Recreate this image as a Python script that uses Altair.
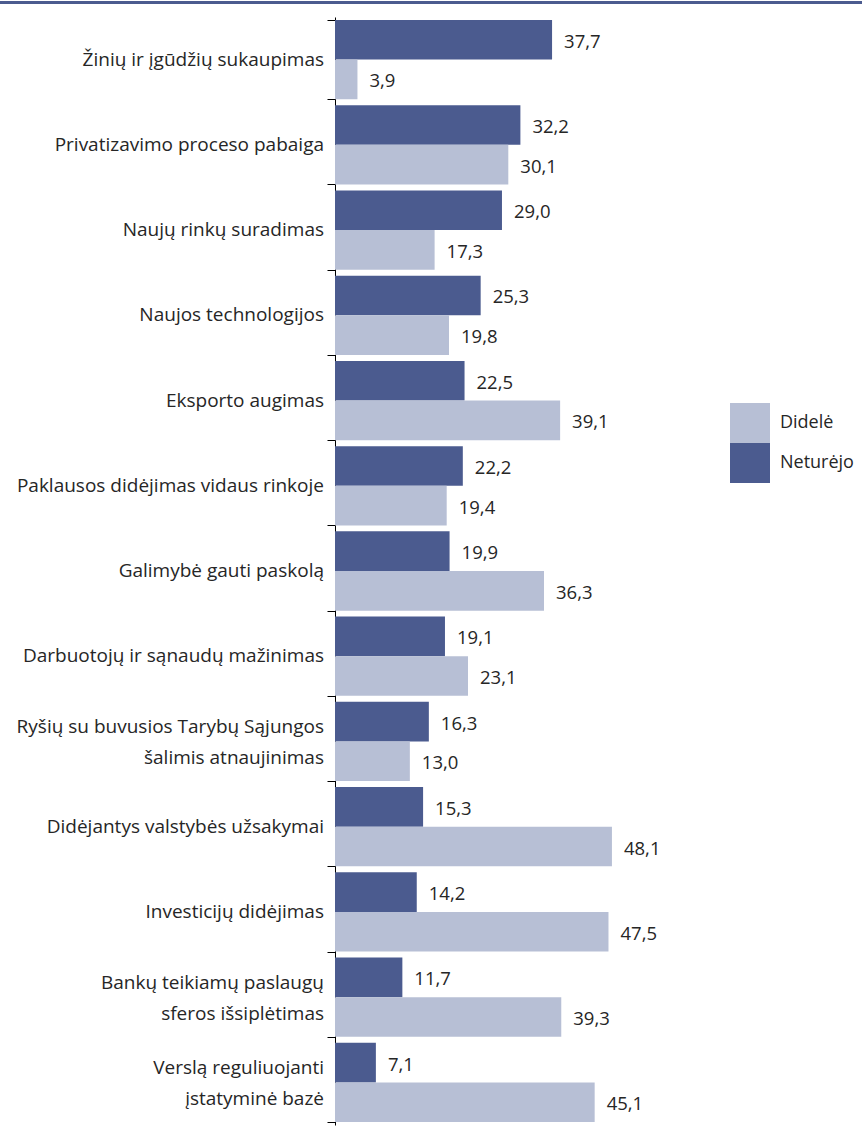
import altair as alt
import pandas as pd

categories = [
    "Žinių ir įgūdžių sukaupimas",
    "Privatizavimo proceso pabaiga",
    "Naujų rinkų suradimas",
    "Naujos technologijos",
    "Eksporto augimas",
    "Paklausos didėjimas vidaus rinkoje",
    "Galimybė gauti paskolą",
    "Darbuotojų  ir sąnaudų mažinimas",
    "Ryšių su buvusios Tarybų Sąjungos|šalimis atnaujinimas",
    "Didėjantys valstybės užsakymai",
    "Investicijų didėjimas",
    "Bankų teikiamų paslaugų|sferos išsiplėtimas",
    "Verslą reguliuojanti|įstatyminė bazė",
]
neturejo = [37.7, 32.2, 29.0, 25.3, 22.5, 22.2, 19.9, 19.1, 16.3, 15.3, 14.2, 11.7, 7.1]
didele = [3.9, 30.1, 17.3, 19.8, 39.1, 19.4, 36.3, 23.1, 13.0, 48.1, 47.5, 39.3, 45.1]
series = ["Didelė", "Neturėjo"]
colors = ["#b7bfd5", "#4b5b8f"]

rows = []
for c, n, d in zip(categories, neturejo, didele):
    rows.append({"cat": c, "series": "Neturėjo", "v": n})
    rows.append({"cat": c, "series": "Didelė", "v": d})
df = pd.DataFrame(rows)

lab_rows = []
for c in categories:
    parts = c.split("|")
    lab_rows.append({"cat": c, "l1": parts[0], "l2": parts[1] if len(parts) > 1 else ""})
labdf = pd.DataFrame(lab_rows)

FONT = "Open Sans"
TXT = "#262626"
CATSIZE = 19

y_enc = alt.Y(
    "cat:N",
    sort=categories,
    scale=alt.Scale(paddingInner=0.07, paddingOuter=0.035),
    axis=alt.Axis(
        title=None,
        labels=False,
        tickBand="extent",
        tickSize=8,
        tickColor="#000000",
        domainColor="#000000",
        tickWidth=1,
        domainWidth=1,
        grid=False,
    ),
)
x_enc = alt.X("v:Q", scale=alt.Scale(domain=[0, 66], nice=False), axis=None)
yoff = alt.YOffset("series:N", sort=["Neturėjo", "Didelė"], scale=alt.Scale(paddingInner=0, paddingOuter=0))

base = alt.Chart(df)

bars = base.mark_bar(strokeWidth=0).encode(
    y=y_enc,
    x=x_enc,
    yOffset=yoff,
    color=alt.Color(
        "series:N",
        scale=alt.Scale(domain=series, range=colors),
        legend=alt.Legend(
            title=None,
            orient="none",
            legendX=395,
            legendY=386,
            symbolType="square",
            symbolSize=1600,
            symbolStrokeWidth=0,
            symbolOpacity=1,
            labelFont=FONT,
            labelFontSize=18,
            labelColor=TXT,
            labelOffset=10,
            rowPadding=0,
            padding=0,
        ),
    ),
)

texts = base.transform_calculate(
    lab="replace(format(datum.v, '.1f'), '.', ',')"
).mark_text(align="left", baseline="middle", dx=12, dy=2, font=FONT, fontSize=18.5, color=TXT).encode(
    y=alt.Y("cat:N", sort=categories),
    x=alt.X("v:Q"),
    yOffset=alt.YOffset("series:N", sort=["Neturėjo", "Didelė"]),
    text="lab:N",
)

labbase = alt.Chart(labdf)
cat_single = labbase.transform_filter("datum.l2 == ''").mark_text(
    align="right", baseline="middle", font=FONT, fontSize=CATSIZE, color=TXT
).encode(y=alt.Y("cat:N", sort=categories), x=alt.value(-11), text="l1:N")
cat_first = labbase.transform_filter("datum.l2 != ''").mark_text(
    align="right", baseline="middle", dy=-14, font=FONT, fontSize=CATSIZE, color=TXT
).encode(y=alt.Y("cat:N", sort=categories), x=alt.value(-11), text="l1:N")
cat_second = labbase.transform_filter("datum.l2 != ''").mark_text(
    align="right", baseline="middle", dy=17, font=FONT, fontSize=CATSIZE, color=TXT
).encode(y=alt.Y("cat:N", sort=categories), x=alt.value(-11), text="l2:N")

topline = alt.Chart(pd.DataFrame({"a": [0]})).mark_rule(color="#4b5b8f", strokeWidth=3).encode(
    x=alt.value(-335), x2=alt.value(527), y=alt.value(-14.5)
)

chart = alt.layer(bars, texts, cat_single, cat_first, cat_second, topline).properties(
    width=380,
    height=1108,
    padding={"left": 335, "top": 17, "right": 147, "bottom": 1},
    autosize=alt.AutoSizeParams(type="none"),
).configure_view(stroke=None)

chart.save("out.html", embed_options={"renderer": "svg", "actions": False})
